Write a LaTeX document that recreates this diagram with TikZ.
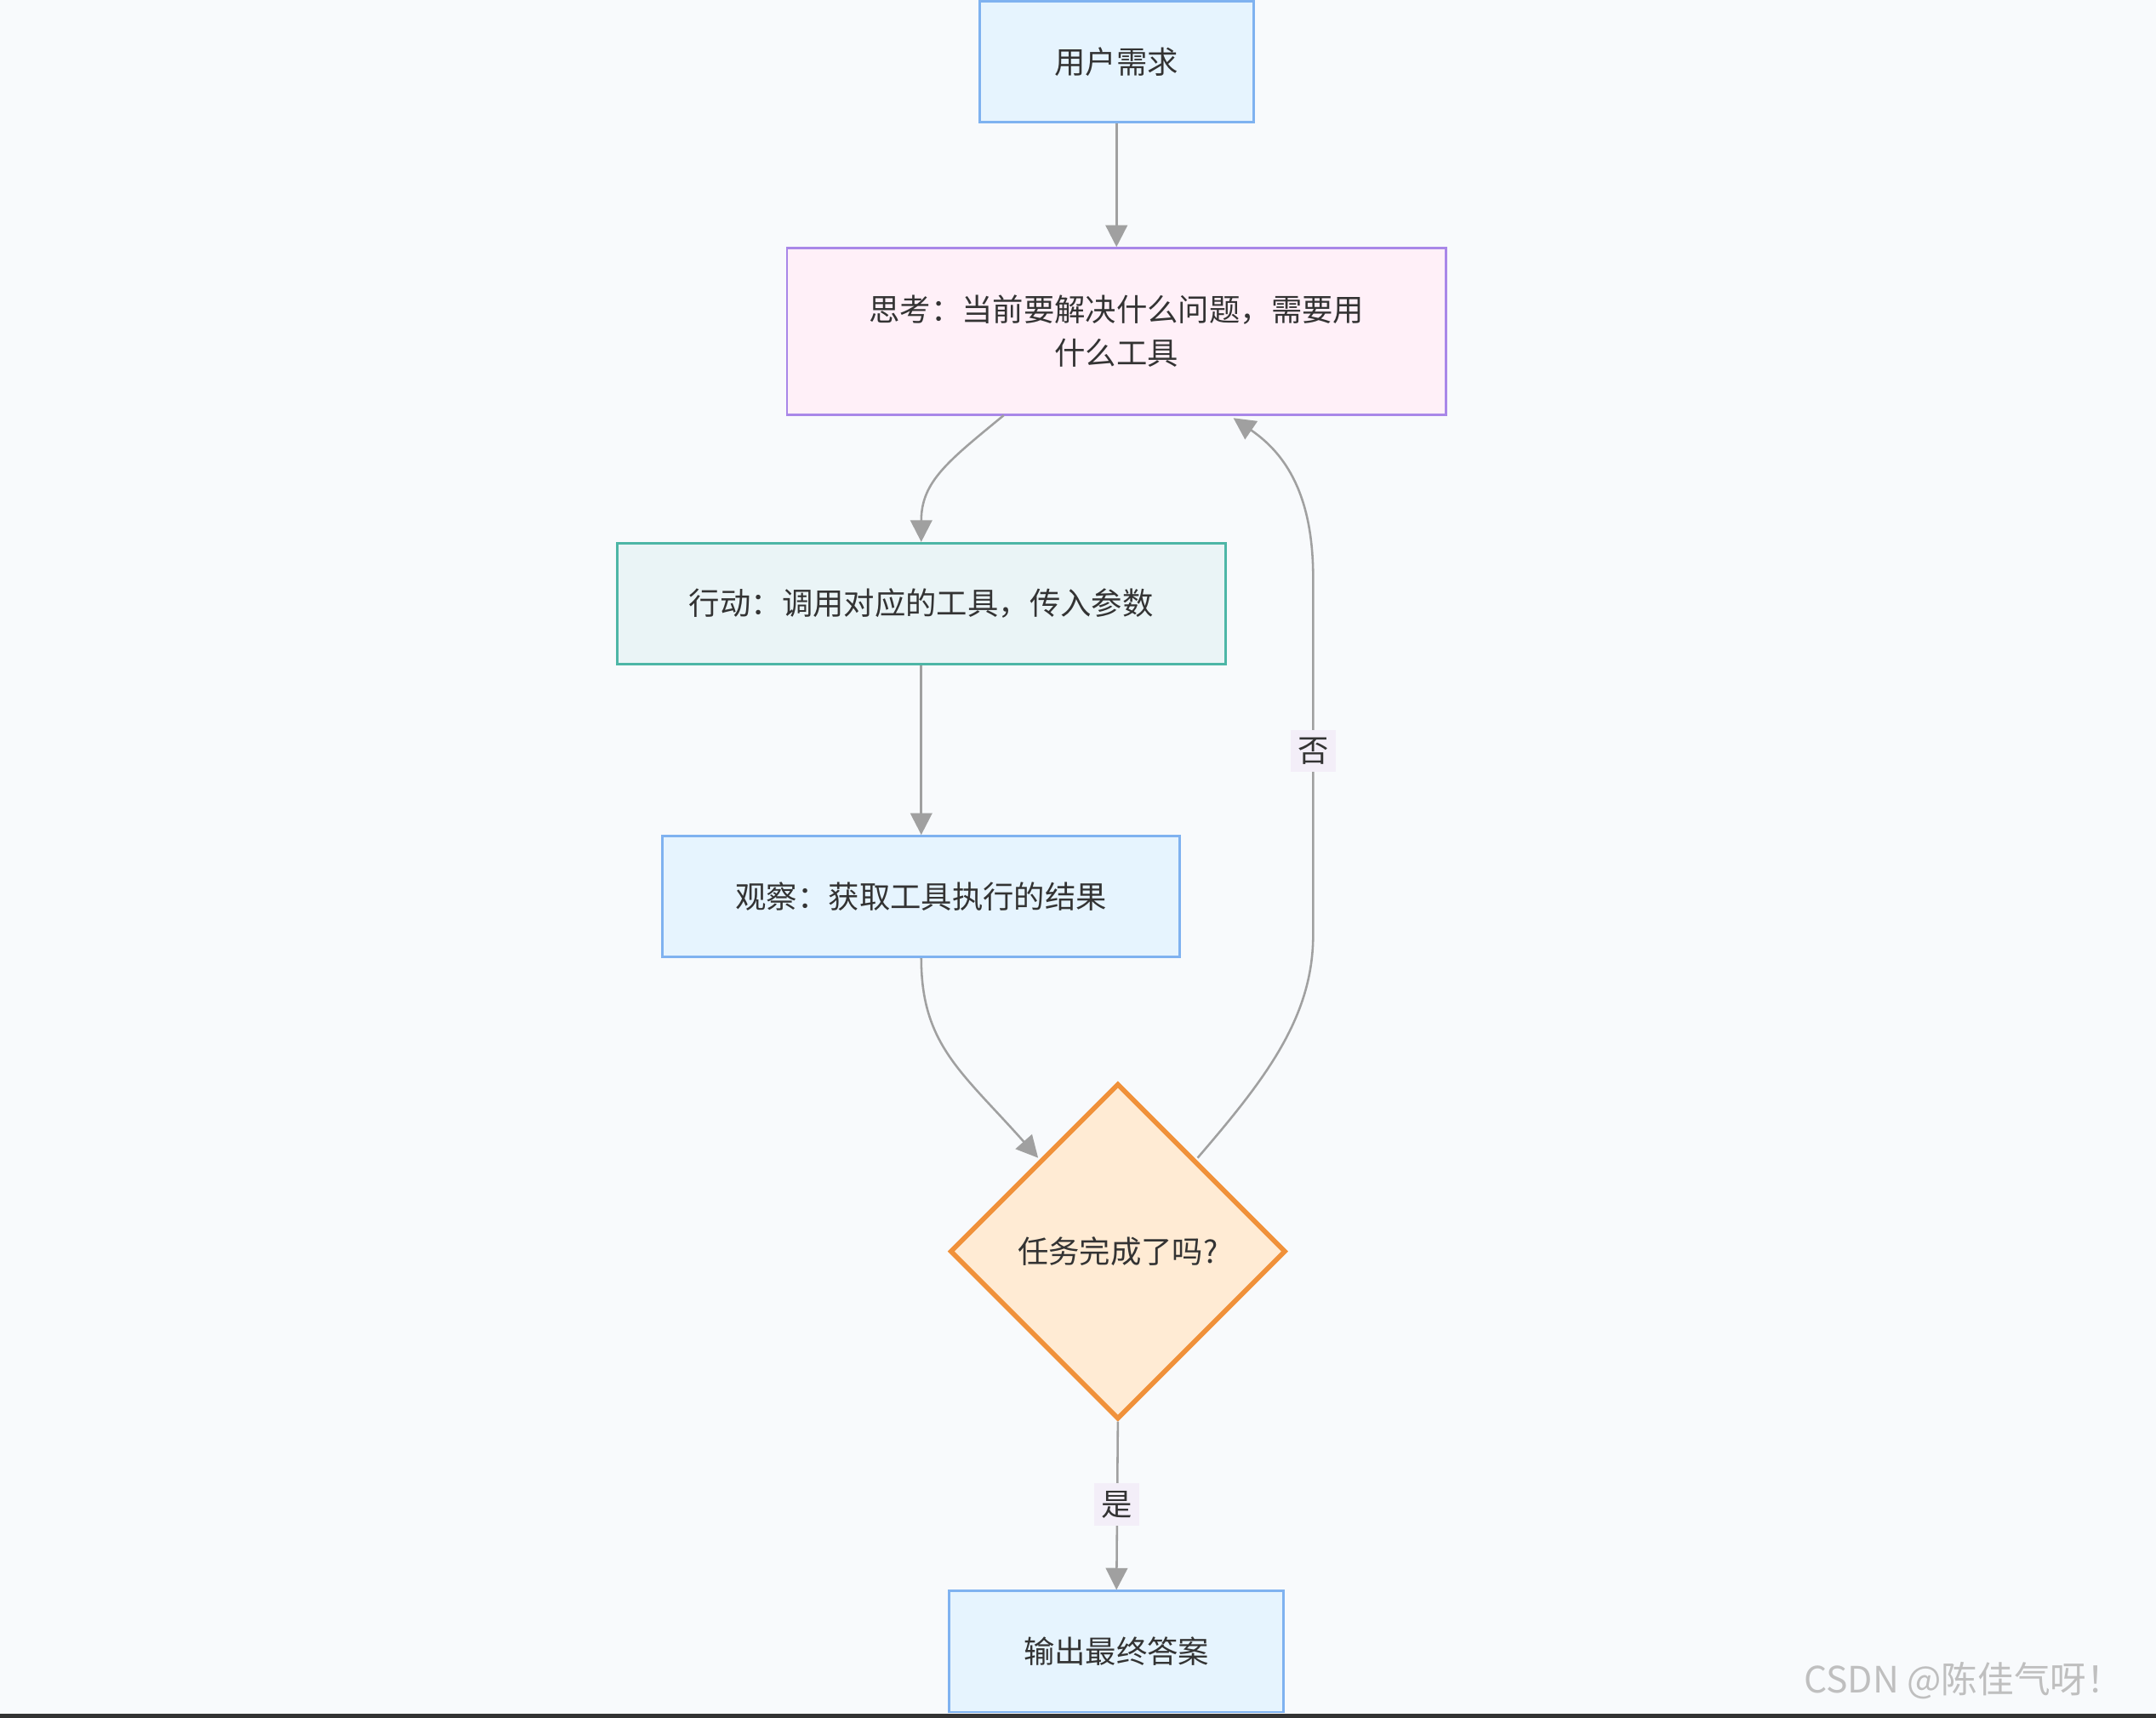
\documentclass[tikz,border=0pt]{standalone}
\usepackage{fontspec}
\newfontfamily\cjk{Noto Sans CJK SC}
\usetikzlibrary{shapes.geometric,arrows.meta}
\definecolor{bg}{HTML}{F8FAFC}
\definecolor{bfill}{HTML}{E6F4FE}
\definecolor{bline}{HTML}{7FB2F0}
\definecolor{pfill}{HTML}{FFF0F8}
\definecolor{pline}{HTML}{A987E8}
\definecolor{tfill}{HTML}{EAF4F6}
\definecolor{tline}{HTML}{4DB6A6}
\definecolor{dfill}{HTML}{FFEBD4}
\definecolor{dline}{HTML}{F0913A}
\definecolor{eline}{HTML}{A0A0A0}
\definecolor{lbl}{HTML}{F3EEF8}
\begin{document}
\begin{tikzpicture}[x=0.01cm,y=-0.01cm,
  every node/.style={font=\cjk\fontsize{6.4}{9}\selectfont, text=black!80},
  box/.style={draw=bline,fill=bfill,line width=0.5pt,inner sep=0,minimum height=0.88cm},
  edge/.style={draw=eline,line width=0.45pt,-{Triangle[length=4.5pt,width=4.5pt]}},
  lab/.style={fill=lbl,inner sep=1.5pt}]
\fill[bg] (0,0) rectangle (1568,1249);
\useasboundingbox (0,0) rectangle (1568,1249);
\draw[black!80,line width=1pt] (0,1248) -- (1568,1248);
\node[box,minimum width=1.99cm] (a) at (812,45) {用户需求};
\node[box,draw=pline,fill=pfill,minimum width=4.79cm,minimum height=1.21cm,align=center] (b) at (812,241) {思考：当前要解决什么问题，需要用\\什么工具};
\node[box,draw=tline,fill=tfill,minimum width=4.42cm] (c) at (670,439) {行动：调用对应的工具，传入参数};
\node[box,minimum width=3.76cm] (d) at (670,652) {观察：获取工具执行的结果};
\node[diamond,draw=dline,fill=dfill,line width=1pt,minimum width=2.44cm,minimum height=2.44cm,inner sep=0] (e) at (813,910) {任务完成了吗?};
\node[box,minimum width=2.43cm] (f) at (812,1201) {输出最终答案};
\coordinate (bl) at (730,302);
\coordinate (br) at (897,304);
\coordinate (el) at (755,842);
\coordinate (er) at (871,842);
\draw[edge] (a) -- (b);
\draw[edge] (bl) .. controls (690,335) and (670,350) .. (c.north);
\draw[edge] (c) -- (d);
\draw[edge] (d.south) .. controls (670,760) and (700,780) .. (el);
\draw[edge] (er) .. controls (920,785) and (955,740) .. (955,680) -- (955,420) .. controls (955,360) and (935,330) .. (br);
\node[lab] (no) at (955,546) {否};
\draw[edge] (e.south) -- (f.north);
\node[lab] (yes) at (812,1094) {是};
\node[text=black!25,font=\cjk\fontsize{7.5}{9}\selectfont] (w) at (1428,1222) {CSDN @陈佳气呀！};
\end{tikzpicture}
\end{document}
